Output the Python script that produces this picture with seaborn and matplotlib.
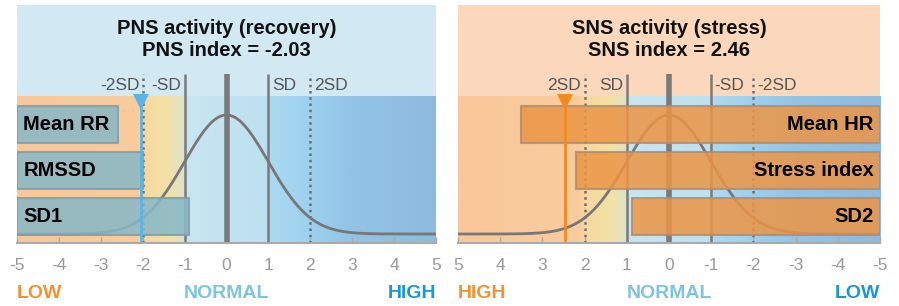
import numpy as np
import pandas as pd
import matplotlib
matplotlib.use("Agg")
import matplotlib.pyplot as plt
import seaborn as sns
from matplotlib.colors import LinearSegmentedColormap
from matplotlib.patches import Rectangle

# ---------------- data ----------------
pns_title = "PNS activity (recovery)"
pns_index_label = "PNS index = -2.03"
pns_index = -2.03
pns_params = ["Mean RR", "RMSSD", "SD1"]
pns_values = [-2.6, -2.0, -0.9]

sns_title = "SNS activity (stress)"
sns_index_label = "SNS index = 2.46"
sns_index = 2.46
sns_params = ["Mean HR", "Stress index", "SD2"]
sns_values = [3.5, 2.2, 0.88]

ticks = [-5, -4, -3, -2, -1, 0, 1, 2, 3, 4, 5]
sd_marks = [-2, -1, 1, 2]
pns_sd_labels = ["-2SD", "-SD", "SD", "2SD"]
sns_sd_labels = ["-2SD", "-SD", "SD", "2SD"]  # at values -2, -1, 1, 2 (axis reversed visually)
pns_zone_labels = ["LOW", "NORMAL", "HIGH"]
sns_zone_labels = ["HIGH", "NORMAL", "LOW"]

# ---------------- style ----------------
sns.set_theme(style="white")
plt.rcParams["font.family"] = ["Liberation Sans", "DejaVu Sans"]

W, H = 899, 306
fig = plt.figure(figsize=(W / 100, H / 100), dpi=100)
fig.patch.set_facecolor("white")

# gradient colormap (value -5 -> 5, PNS orientation)
stops = [(-5, "#f8c89b"), (-2.2, "#f9cb9d"), (-1.9, "#f6d9a1"), (-1.4, "#f3e1a5"),
         (-1.05, "#dfe3c6"), (-0.95, "#c7e6f2"), (0.0, "#c3e3f0"), (0.95, "#bde1f0"),
         (1.05, "#acdaf1"), (2.0, "#9dd0ee"), (3.0, "#93c4e6"), (5.0, "#8dbbdf")]
cmap = LinearSegmentedColormap.from_list(
    "hrv", [((v + 5) / 10, c) for v, c in stops])

Y_TOP = 238
Y_GRAD = 147
Y_LINE = 169
CURVE_BASE = 9
CURVE_AMP = 119
BAR_Y = [119, 73, 27]
BAR_H = 37


def draw_panel(ax, reverse, title, idx_label, idx, params, values, sd_labels,
               zone_labels, top_color, bar_face, bar_edge, marker_color):
    ax.set_facecolor("white")
    # top background
    ax.add_patch(Rectangle((-5, Y_GRAD), 10, Y_TOP - Y_GRAD, color=top_color, zorder=0, lw=0))
    # gradient band
    grad = np.linspace(0, 1, 400).reshape(1, -1)
    extent = [5, -5, 0, Y_GRAD] if reverse else [-5, 5, 0, Y_GRAD]
    ax.imshow(grad, cmap=cmap, aspect="auto", extent=extent, zorder=0.5,
              interpolation="bilinear")
    ax.set_xlim(5, -5) if reverse else ax.set_xlim(-5, 5)
    ax.set_ylim(0, Y_TOP)

    # SD lines
    ax.plot([0, 0], [0, Y_LINE], color="#7a7a7a", lw=4, zorder=2, solid_capstyle="butt")
    for v in [-1, 1]:
        ax.plot([v, v], [0, Y_LINE], color="#7a7a7a", lw=1.8, zorder=2, solid_capstyle="butt")
    for v in [-2, 2]:
        ax.plot([v, v], [0, Y_LINE], color="#6f6f6f", lw=1.8, ls=(0, (1, 1.5)), zorder=2)

    # SD labels
    for v, lab in zip(sd_marks, sd_labels):
        left_side = (v < 0) != reverse  # label drawn to the left of the line on screen
        off = 0.08
        if left_side:
            x = v - off if not reverse else v + off
            ha = "right"
        else:
            x = v + off if not reverse else v - off
            ha = "left"
        ax.text(x, 157, lab, ha=ha, va="center", fontsize=12.5, color="#555555", zorder=3)

    # normal curve
    xs = np.linspace(-5, 5, 401)
    curve = pd.DataFrame({"x": xs, "y": CURVE_BASE + CURVE_AMP * np.exp(-0.5 * xs ** 2)})
    sns.lineplot(data=curve, x="x", y="y", ax=ax, color="#777777", lw=2, zorder=3,
                 estimator=None, sort=False)

    # bars
    for yb, v, p in zip(BAR_Y, values, params):
        ax.barh(yb, v + 5, left=-5, height=BAR_H, color=bar_face, alpha=0.85,
                edgecolor=bar_edge, linewidth=1.5, zorder=4)
        ax.text(-4.85, yb, p, ha="right" if reverse else "left", va="center",
                fontsize=14.5, fontweight="bold", color="black", zorder=6)

    # index marker
    ax.plot([idx, idx], [0, 140], color=marker_color, lw=2, zorder=5)
    ax.plot([idx], [141], marker="v", markersize=12, color=marker_color, zorder=5,
            markeredgewidth=0)

    # titles
    ax.text(0, 215, title, ha="center", va="center", fontsize=14.5, fontweight="bold",
            color="#111111", zorder=6)
    ax.text(0, 192, idx_label, ha="center", va="center", fontsize=14.5, fontweight="bold",
            color="#111111", zorder=6)

    # axes styling
    for s in ["top", "right", "left"]:
        ax.spines[s].set_visible(False)
    ax.spines["bottom"].set_color("#aaaaaa")
    ax.spines["bottom"].set_linewidth(1.5)
    ax.spines["bottom"].set_zorder(7)
    ax.set_yticks([])
    ax.set_xticks(ticks)
    ax.set_xticklabels([str(t) for t in ticks])
    ax.tick_params(axis="x", direction="in", length=4, width=1, color="#aaaaaa",
                   labelsize=12.5, labelcolor="#999999", pad=11, bottom=True)
    ax.set_xlabel("")
    ax.set_ylabel("")

    # zone labels
    zcolors = ["#f39230", "#7cc4e0", "#1a98d5"]
    xl, xr = (5, -5) if reverse else (-5, 5)
    ax.text(xl, -51, zone_labels[0], ha="left", va="center", fontsize=14,
            fontweight="bold", color=zcolors[0], clip_on=False)
    ax.text(0, -51, zone_labels[1], ha="center", va="center", fontsize=14,
            fontweight="bold", color=zcolors[1], clip_on=False)
    ax.text(xr, -51, zone_labels[2], ha="right", va="center", fontsize=14,
            fontweight="bold", color=zcolors[2], clip_on=False)


bottom = (H - 243) / H
height = (243 - 5) / H
ax1 = fig.add_axes([17 / W, bottom, (436 - 17) / W, height])
ax2 = fig.add_axes([458 / W, bottom, (880 - 458) / W, height])

draw_panel(ax1, False, pns_title, pns_index_label, pns_index, pns_params, pns_values,
           pns_sd_labels, pns_zone_labels, "#d2e9f3", "#86b8c8", "#7f9ea8", "#5ab4e6")
draw_panel(ax2, True, sns_title, sns_index_label, sns_index, sns_params, sns_values,
           sns_sd_labels, sns_zone_labels, "#fbd8bb", "#ec9545", "#b48c6c", "#f28a22")

fig.savefig("out.png", dpi=100, facecolor="white")
